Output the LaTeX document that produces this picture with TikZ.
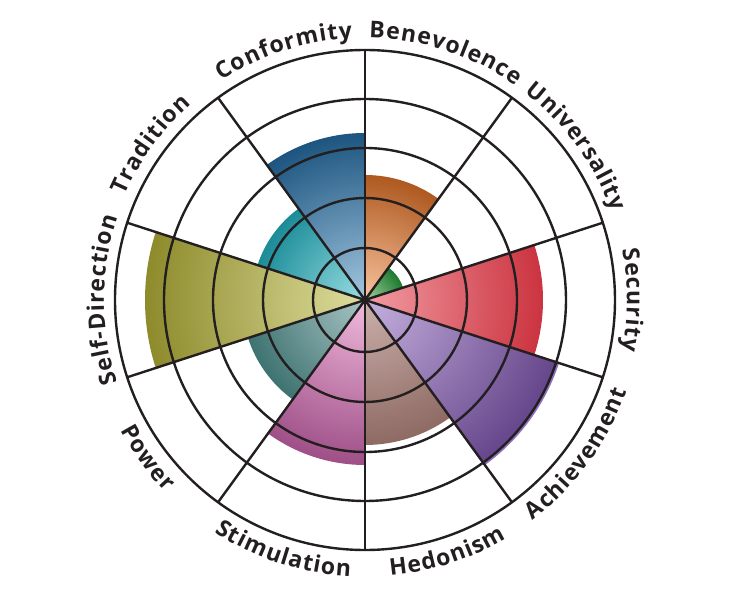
\documentclass[tikz,border=0pt]{standalone}
\usepackage{fontspec}
\setmainfont{Open Sans}
\usetikzlibrary{decorations.text}

\definecolor{ink}{HTML}{231F20}
\definecolor{confin}{HTML}{A3C7E0}\definecolor{confout}{HTML}{1D5580}
\definecolor{tradin}{HTML}{98DEE3}\definecolor{tradout}{HTML}{1B8C98}
\definecolor{selfin}{HTML}{DEDE9E}\definecolor{selfout}{HTML}{8E8B2C}
\definecolor{powin}{HTML}{A9C5C5}\definecolor{powout}{HTML}{3E7371}
\definecolor{stimin}{HTML}{F1BADC}\definecolor{stimout}{HTML}{9E4F87}
\definecolor{hedin}{HTML}{CBB0AB}\definecolor{hedout}{HTML}{8E6A63}
\definecolor{achin}{HTML}{C5B0DE}\definecolor{achout}{HTML}{65458A}
\definecolor{achrim}{HTML}{8B6FBB}
\definecolor{secin}{HTML}{F29CA3}\definecolor{secout}{HTML}{CB3440}
\definecolor{uniin}{HTML}{A2D29F}\definecolor{uniout}{HTML}{1D7A2E}
\definecolor{benin}{HTML}{F9C39E}\definecolor{benout}{HTML}{AE5920}

\newcommand{\wheelfont}{\fontsize{23}{27}\selectfont\bfseries}
\newcommand{\petal}[5]{%
  \begin{scope}
    \clip (0,0) -- (#1:#3) arc (#1:#2:#3) -- cycle;
    \shade[inner color=#4, outer color=#5] (0,0) circle (#3);
  \end{scope}}

\tikzset{
  ring/.style={draw=ink, line width=2.4pt},
  spoke/.style={draw=ink, line width=2.4pt},
  sectorlabel/.style={decorate, decoration={text effects along path,
      text={#1}, text align=center, text effects/.cd, text along path,
      characters={font=\wheelfont, text=ink, anchor=base, inner sep=0pt},
      character widths={font=\wheelfont, inner xsep=0.5pt}}}
}

\begin{document}
\begin{tikzpicture}[x=1pt, y=1pt]
        \useasboundingbox (-365,-300) rectangle (367,300);
        \petal{90}{126}{167}{confin}{confout}
        \petal{126}{162}{113}{tradin}{tradout}
        \petal{162}{198}{220}{selfin}{selfout}
        \petal{198}{234}{123}{powin}{powout}
        \petal{234}{270}{165}{stimin}{stimout}
        \petal{270}{306}{145}{hedin}{hedout}
        \petal{306}{342}{203}{achin}{achout}
        \petal{342}{378}{178}{secin}{secout}
        \petal{18}{54}{40}{uniin}{uniout}
        \petal{54}{90}{125}{benin}{benout}
        \draw[achrim, line width=2pt] (306:203) arc (306:342:203);
        \draw[ring] (0,0) circle (52);
        \draw[ring] (0,0) circle (102);
        \draw[ring] (0,0) circle (152);
        \draw[ring] (0,0) circle (201);
        \draw[ring] (0,0) circle (250);
        \draw[spoke] (90:250) -- (270:250);
        \draw[spoke] (54:250) -- (234:250);
        \draw[spoke] (18:250) -- (198:250);
        \draw[spoke] (-18:250) -- (162:250);
        \draw[spoke] (-54:250) -- (126:250);
        \fill[ink] (0,0) circle (4);
        \path[sectorlabel=Conformity] (138:262) arc (138:78:262);
        \path[sectorlabel=Benevolence] (102:262) arc (102:42:262);
        \path[sectorlabel=Universality] (66:262) arc (66:6:262);
        \path[sectorlabel=Security] (30:262) arc (30:-30:262);
        \path[sectorlabel=Achievement] (-66:277) arc (-66:-6:277);
        \path[sectorlabel=Hedonism] (-102:277) arc (-102:-42:277);
        \path[sectorlabel=Stimulation] (222:277) arc (222:282:277);
        \path[sectorlabel=Power] (186:277) arc (186:246:277);
        \path[sectorlabel=Self-Direction] (210:261) arc (210:150:261);
        \path[sectorlabel=Tradition] (174:262) arc (174:114:262);
\end{tikzpicture}
\end{document}
